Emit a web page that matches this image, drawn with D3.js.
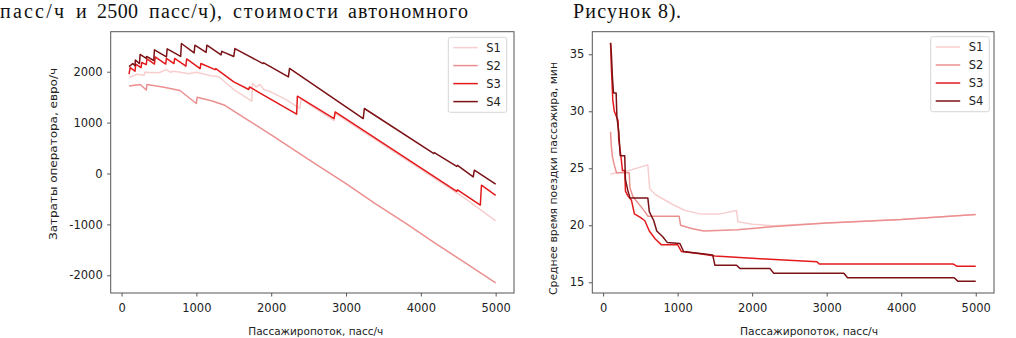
<!DOCTYPE html>
<html><head><meta charset="utf-8">
<script src="https://cdn.jsdelivr.net/npm/d3@7"></script>
<style>
body{margin:0;background:#fff;}
svg{display:block;}
</style></head><body>
<svg id="c" width="1016" height="338"></svg>
<script>
// ---------- data ----------
const seriesNames = ["S1", "S2", "S3", "S4"];
const flowTicks = [0, 1000, 2000, 3000, 4000, 5000];
const costTicks = [-2000, -1000, 0, 1000, 2000];
const timeTicks = [15, 20, 25, 30, 35];

// operator cost, euro/h  ([passenger flow, value])
const costS1 = [[100,1880],[200,1950],[300,1930],[310,1990],[500,1980],[600,2040],[650,1990],[700,2010],[900,1960],[1000,1990],[1200,1920],[1300,1900],[1500,1650],[1740,1420],[1750,1770],[1800,1700],[1850,1750],[1900,1650],[2000,1600],[2200,1450],[2380,1280],[2400,1460],[2840,1040],[2855,1180],[3500,560],[4200,-110],[4600,-500],[5000,-930]];
const costS2 = [[100,1720],[250,1750],[330,1640],[340,1750],[550,1700],[780,1630],[1000,1375],[1010,1500],[1200,1430],[1380,1340],[1700,1040],[2000,760],[2600,180],[3000,-200],[3400,-600],[3800,-980],[4200,-1380],[4600,-1760],[5000,-2150]];
const costS3 = [[100,1950],[115,2080],[180,2010],[190,2150],[260,2080],[270,2180],[330,2140],[340,2250],[440,2150],[450,2290],[590,2150],[600,2260],[700,2160],[710,2260],[860,2110],[870,2250],[1050,2060],[1060,2160],[1250,2040],[1260,2060],[1500,1800],[1700,1650],[1710,1700],[2340,1165],[2350,1519],[2840,1080],[2855,1210],[4480,-350],[4490,-320],[4795,-620],[4810,-230],[5000,-430]];
const costS4 = [[100,2100],[150,2160],[180,2120],[185,2230],[240,2160],[248,2340],[330,2260],[335,2300],[430,2220],[440,2430],[600,2290],[610,2450],[790,2300],[800,2554],[970,2370],[980,2520],[1130,2380],[1140,2520],[1330,2330],[1340,2400],[1500,2300],[1515,2455],[1890,2160],[1900,2175],[2230,1898],[2245,2064],[3230,1080],[3245,1277],[4170,393],[4180,410],[4480,140],[4490,160],[4700,-67],[4715,64],[5000,-210]];

// mean passenger trip time, min
const timeS1 = [[100,24.5],[200,24.6],[350,24.8],[600,25.3],[625,23.2],[700,22.7],[940,21.8],[1100,21.3],[1300,21.0],[1570,21.0],[1790,21.3],[1810,20.3],[2000,20.1],[2290,19.95],[3000,20.2],[4000,20.5],[5000,20.95]];
const timeS2 = [[100,28.2],[110,27],[125,26],[150,25.3],[180,24.6],[350,24.6],[360,23.3],[400,22.5],[500,21.7],[560,21.2],[600,20.8],[1020,20.8],[1040,20.0],[1200,19.7],[1350,19.5],[1800,19.6],[2300,19.9],[3000,20.2],[4000,20.5],[5000,20.95]];
const timeS3 = [[100,36],[110,34],[130,31],[150,30],[200,29.2],[210,27.5],[240,26],[260,24.8],[290,24.8],[300,23],[330,22.6],[380,22.2],[420,21],[500,20.7],[560,20.4],[620,19.5],[700,18.8],[780,18.3],[1000,18.3],[1050,17.7],[1300,17.5],[1500,17.3],[2000,17.1],[2300,17.0],[2870,16.8],[2900,16.6],[4700,16.6],[4750,16.4],[5000,16.4]];
const timeS4 = [[100,36],[110,35.2],[125,33],[140,31.6],[175,31.6],[185,29.5],[210,28.2],[230,26.1],[290,26.1],[300,24],[330,23.1],[360,22.4],[600,22.4],[620,21.2],[680,20.4],[720,19.5],[800,19],[860,18.5],[1030,18.4],[1080,17.7],[1470,17.4],[1500,16.5],[1790,16.5],[1840,16.2],[2240,16.2],[2290,15.8],[3230,15.8],[3280,15.4],[4710,15.4],[4760,15.1],[5000,15.1]];

// surrounding document text
const headWords = ["пасс/ч", "и", "2500", "пасс/ч),", "стоимости", "автономного"];
const headWords2 = ["Рисунок", "8)."];

// ---------- styles / layout ----------
const colors = ["#f8cfcf", "#ec8f8f", "#e31a1c", "#7b1216"];
const FONT = "DejaVu Sans, sans-serif";
const SERIF = "Liberation Serif, Times New Roman, serif";
const svg = d3.select("#c");

const headPos = [[0,64],[76,11],[97,41],[149,73],[233,105],[348,120]];
const headPos2 = [[573,78],[658,23]];
function words(list, pos) {
  list.forEach((w, i) => {
    svg.append("text").attr("x", pos[i][0]).attr("y", 18)
      .attr("font-family", SERIF).attr("font-size", 20).attr("fill", "#111")
      .attr("textLength", pos[i][1]).attr("lengthAdjust", "spacing").text(w);
  });
}
words(headWords, headPos);
words(headWords2, headPos2);

const panels = [
  { left:110.7, top:31.7, right:514, bottom:293, xDom:[-145,5245], yDom:[-2348,2786],
    yTicks: costTicks, data:[costS1,costS2,costS3,costS4],
    yLabel:"Затраты оператора, евро/ч", yLen:172, yLabelX:53, yLabelY:154, xLabelX:315.8, xLen:135,
    leg:{x:448.3, y:37.3, w:58.4, h:75} },
  { left:592.3, top:31.7, right:994, bottom:293, xDom:[-145,5245], yDom:[14.06,36.98],
    yTicks: timeTicks, data:[timeS1,timeS2,timeS3,timeS4],
    yLabel:"Среднее время поездки пассажира, мин", yLen:233, yLabelX:553, yLabelY:178.5, xLabelX:809, xLen:138,
    leg:{x:930.7, y:36.7, w:58.6, h:75} }
];

panels.forEach(p => {
  const x = d3.scaleLinear().domain(p.xDom).range([p.left, p.right]);
  const y = d3.scaleLinear().domain(p.yDom).range([p.bottom, p.top]);
  const g = svg.append("g");

  const clipId = "clip" + Math.round(p.left);
  g.append("clipPath").attr("id", clipId).append("rect")
    .attr("x", p.left).attr("y", p.top).attr("width", p.right - p.left).attr("height", p.bottom - p.top);

  const line = d3.line().x(d => x(d[0])).y(d => y(d[1]));
  const lg = g.append("g").attr("clip-path", `url(#${clipId})`);
  p.data.forEach((s, i) => {
    lg.append("path").datum(s).attr("d", line)
      .attr("fill", "none").attr("stroke", colors[i]).attr("stroke-width", 1.5)
      .attr("stroke-linejoin", "round");
  });

  // axes
  const xa = g.append("g").attr("transform", `translate(0,${p.bottom})`)
    .call(d3.axisBottom(x).tickValues(flowTicks).tickSize(3.5).tickPadding(7).tickFormat(d3.format("d")));
  const ya = g.append("g").attr("transform", `translate(${p.left},0)`)
    .call(d3.axisLeft(y).tickValues(p.yTicks).tickSize(3.5).tickPadding(4.5).tickFormat(d => String(d)));
  [xa, ya].forEach(a => {
    a.select(".domain").remove();
    a.selectAll("line").attr("stroke", "#444").attr("stroke-width", 0.9);
    a.selectAll("text").attr("font-family", FONT).attr("font-size", 11.5).attr("fill", "#222");
  });

  // spines
  g.append("rect").attr("x", p.left).attr("y", p.top)
    .attr("width", p.right - p.left).attr("height", p.bottom - p.top)
    .attr("fill", "none").attr("stroke", "#555").attr("stroke-width", 1);

  // labels
  g.append("text").attr("x", p.xLabelX).attr("y", 335).attr("text-anchor", "middle")
    .attr("font-family", FONT).attr("font-size", 11).attr("fill", "#222")
    .attr("textLength", p.xLen).attr("lengthAdjust", "spacingAndGlyphs").text("Пассажиропоток, пасс/ч");
  g.append("text").attr("transform", `translate(${p.yLabelX},${p.yLabelY}) rotate(-90)`)
    .attr("text-anchor", "middle").attr("dy", "0.35em")
    .attr("font-family", FONT).attr("font-size", 11).attr("fill", "#222")
    .attr("textLength", p.yLen).attr("lengthAdjust", "spacingAndGlyphs").text(p.yLabel);

  // legend
  const L = p.leg;
  g.append("rect").attr("x", L.x).attr("y", L.y).attr("width", L.w).attr("height", L.h)
    .attr("rx", 2).attr("fill", "#fff").attr("fill-opacity", 0.85)
    .attr("stroke", "#d6d6d6").attr("stroke-width", 1);
  seriesNames.forEach((n, i) => {
    const yy = L.y + 10.3 + i * 18;
    g.append("line").attr("x1", L.x + 5).attr("x2", L.x + 29.5).attr("y1", yy).attr("y2", yy)
      .attr("stroke", colors[i]).attr("stroke-width", 1.5);
    g.append("text").attr("x", L.x + 38).attr("y", yy).attr("dy", "0.36em")
      .attr("font-family", FONT).attr("font-size", 11.5).attr("fill", "#222").text(n);
  });
});
</script>
</body></html>
